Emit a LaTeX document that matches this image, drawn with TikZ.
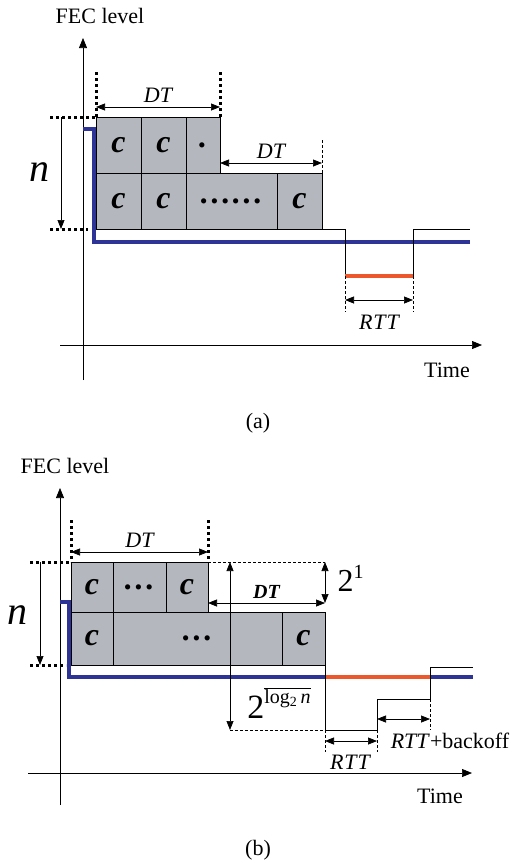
\documentclass[tikz,border=0pt]{standalone}
\usepackage{fontspec}
\setmainfont{Liberation Serif}
\usetikzlibrary{arrows.meta}
\definecolor{cellgray}{RGB}{180,184,190}
\definecolor{fecblue}{RGB}{46,52,150}
\definecolor{fecred}{RGB}{236,88,44}
\tikzset{
  fec wire/.style={line width=0.7pt},
  fec axis/.style={line width=0.7pt,-{Triangle[length=10pt,width=8pt]}},
  fec cell/.style={draw,line width=0.7pt,fill=cellgray,inner sep=0pt,outer sep=0pt,
    font=\fontsize{32}{32}\selectfont\bfseries\itshape},
  fec dim/.style={line width=0.7pt,{Triangle[length=9pt,width=7pt]}-{Triangle[length=9pt,width=7pt]}},
  fec down/.style={line width=0.7pt,-{Triangle[length=9pt,width=7pt]}},
  fec dots/.style={line width=3pt,dash pattern=on 3pt off 3pt},
  fec guide/.style={line width=0.6pt,dash pattern=on 3pt off 2pt},
  fec level/.style={line width=4pt,color=fecblue},
  fec loss/.style={line width=4pt,color=fecred},
  fec text/.style={font=\fontsize{22}{24}\selectfont},
  fec ital/.style={font=\fontsize{22}{24}\selectfont\itshape},
  fec big/.style={font=\fontsize{40}{40}\selectfont\itshape}
}
\begin{document}
\begin{tikzpicture}[x=1pt,y=-1pt]
  \useasboundingbox (0,0) rectangle (513,863);

  % ---------- (a) ----------
  \coordinate (ay0) at (83,380);
  \coordinate (ay1) at (83,38);
  \coordinate (ax0) at (60,345);
  \coordinate (ax1) at (482,345);
  \draw[fec axis] (ay0) -- (ay1);
  \draw[fec axis] (ax0) -- (ax1);
  \node[fec text] (afec) at (100,16) {FEC level};
  \node[fec text] (atime) at (447,370) {Time};

  \foreach \nm/\x/\y/\w/\h/\txt in {a11/96/117/45/56/c, a12/141/117/45/56/c,
      a13/186/117/34/56/., a21/96/173/45/56/c, a22/141/173/45/56/c,
      a23/186/173/91/56/{……}, a24/277/173/45/56/c}
    \node[fec cell,minimum width=\w pt,minimum height=\h pt,anchor=north west] (\nm) at (\x,\y) {\txt};

  \draw[fec level] (83,129) -- (94,129) -- (94,242) -- (470,242);
  \draw[fec wire] (a24.south east) -- (345,229) -- (345,276) -- (413,276) -- (413,229) -- (470,229);
  \draw[fec loss] (345,276) -- (413,276);

  % DT markers
  \draw[fec dots] (96,72) -- (a11.north west);
  \draw[fec dots] (220,72) -- (a13.north east);
  \draw[fec dots] (50,117) -- (a11.north west);
  \draw[fec dots] (50,229) -- (88,229);
  \draw[fec dim] (96,107) -- node[above=1pt,fec ital] {DT} (220,107);
  \draw[fec down] (61,117) -- (61,229);
  \node[fec big] (an) at (40,172) {n};

  \draw[fec guide] (322,140) -- (a24.north east);
  \draw[fec dim] (a13.east |- 0,163) -- node[above=1pt,fec ital] {DT} (322,163);

  \draw[fec guide] (345,276) -- (345,312);
  \draw[fec guide] (413,276) -- (413,312);
  \draw[fec dim] (345,300) -- (413,300);
  \node[fec ital] (artt) at (379,322) {R\kern1pt T\kern1pt T};
  \node[fec text] (acap) at (258,423) {(a)};

  % ---------- (b) ----------
  \coordinate (by0) at (60,805);
  \coordinate (by1) at (60,488);
  \coordinate (bx0) at (28,773);
  \coordinate (bx1) at (472,773);
  \draw[fec axis] (by0) -- (by1);
  \draw[fec axis] (bx0) -- (bx1);
  \node[fec text] (bfec) at (65,466) {FEC level};
  \node[fec text] (btime) at (440,796) {Time};

  \foreach \nm/\x/\y/\w/\h/\txt in {b11/71/562/42/50/c, b12/113/562/53/50/…,
      b13/166/562/42/50/c, b21/71/612/42/53/c, b22/113/612/169/53/…,
      b23/282/612/43/53/c}
    \node[fec cell,minimum width=\w pt,minimum height=\h pt,anchor=north west] (\nm) at (\x,\y) {\txt};

  \draw[fec level] (60,602) -- (69,602) -- (69,677) -- (325,677);
  \draw[fec loss] (325,677) -- (430,677);
  \draw[fec level] (430,677) -- (473,677);
  \draw[fec wire] (b23.south east) -- (325,730) -- (377,730) -- (377,699) -- (430,699) -- (430,667) -- (473,667);

  % DT markers
  \draw[fec dots] (71,520) -- (b11.north west);
  \draw[fec dots] (208,520) -- (b13.north east);
  \draw[fec dots] (30,562) -- (b11.north west);
  \draw[fec dots] (30,665) -- (66,665);
  \draw[fec dim] (71,552) -- node[above=1pt,fec ital] {DT} (208,552);
  \draw[fec down] (40,562) -- (40,665);
  \node[fec big] (bn) at (18,615) {n};

  % growth steps
  \draw[fec guide] (b13.north east) -- (325,562);
  \draw[fec dim] (325,562) -- (325,603);
  \node[anchor=west] (btwo) at (334,578) {\fontsize{32}{32}\selectfont 2\raisebox{13pt}{\fontsize{20}{20}\selectfont 1}};
  \draw[fec dim] (b13.east |- 0,603) -- node[above=1pt,font=\fontsize{20}{22}\selectfont\bfseries\itshape] {DT} (325,603);
  \draw[fec dim] (230,562) -- (230,730);
  \draw[fec guide] (230,730) -- (325,730);
  \node (blog) at (279,703) {\fontsize{34}{34}\selectfont 2\raisebox{15pt}{\fontsize{20}{20}\selectfont$\overline{\mbox{log\textsubscript{2}\,\textit{n}}}$}};

  \draw[fec guide] (325,730) -- (325,752);
  \draw[fec guide] (377,730) -- (377,752);
  \draw[fec dim] (325,741) -- (377,741);
  \node[fec ital] (brtt) at (350,762) {R\kern1pt T\kern1pt T};
  \draw[fec guide] (430,699) -- (430,730);
  \draw[fec dim] (377,719) -- (430,719);
  \node[fec text] (bback) at (450,741) {\textit{RTT}+backoff};
  \node[fec text] (bcap) at (258,850) {(b)};
\end{tikzpicture}
\end{document}
